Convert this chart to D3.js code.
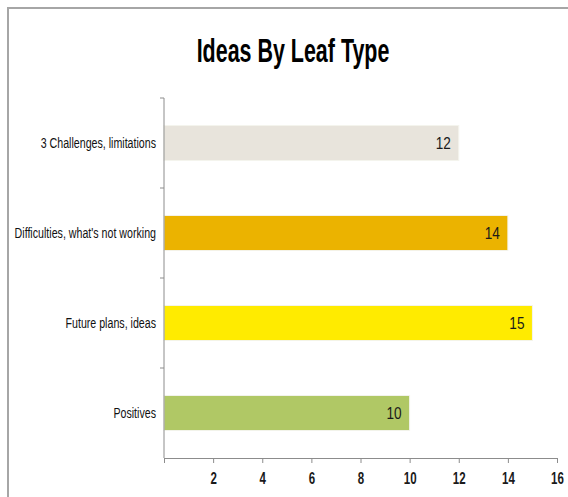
<!DOCTYPE html>
<meta charset="utf-8">
<head>
<style type='text/css'>
  body {
    margin: 0;
    background: #fff;
  }
  .axis .domain, .axis line {
    stroke: #8c8c8c;
  }
  .xaxis text {
    font-family: 'Liberation Sans', sans-serif;
    font-weight: bold;
    font-size: 16px;
    fill: #1a1a1a;
  }
  .ylab {
    font-family: 'Liberation Sans', sans-serif;
    font-size: 14.8px;
    fill: #111;
  }
</style>
</head>
<body>
<svg id="chart" width="568" height="497"></svg>
<script src="https://d3js.org/d3.v7.min.js"></script>
<script>
// data
var categories = ["3 Challenges, limitations", "Difficulties, what's not working", "Future plans, ideas", "Positives"];
var counts = [12, 14, 15, 10];
var barColors = ["#e8e4dc", "#ebb300", "#ffeb00", "#b0c865"];
var xTicks = [2, 4, 6, 8, 10, 12, 14, 16];

// the original uses a narrow font, squeeze the text horizontally
var squeeze = 0.72;

var svg = d3.select("#chart"),
    margin = {top: 98, right: 11, bottom: 39, left: 164},
    width = +svg.attr("width") - margin.left - margin.right,
    height = +svg.attr("height") - margin.top - margin.bottom;

// outer frame
svg.append("path")
    .attr("d", "M8,497 V8 H568")
    .attr("fill", "none")
    .attr("stroke", "#a6a6a6")
    .attr("stroke-width", 2);

svg.append("g")
    .attr("transform", "translate(293,62) scale(0.65,1)")
  .append("text")
    .attr("text-anchor", "middle")
    .style("font-family", "'Liberation Sans', sans-serif")
    .style("font-weight", "bold")
    .style("font-size", "33px")
    .attr("fill", "#000")
    .text("Ideas By Leaf Type");

var g = svg.append("g").attr("transform", "translate(" + margin.left + "," + margin.top + ")");

var x = d3.scaleLinear().domain([0, 16]).range([0, width]);
var y = d3.scaleBand().domain(categories).range([0, height]).paddingInner(0.61).paddingOuter(0.305);
var band = d3.scaleBand().domain(categories).range([0, height]);

g.selectAll("rect.bar")
    .data(categories)
  .enter().append("rect")
    .attr("class", "bar")
    .attr("x", 0)
    .attr("y", function(d) { return y(d); })
    .attr("width", function(d, i) { return x(counts[i]); })
    .attr("height", y.bandwidth())
    .attr("fill", function(d, i) { return barColors[i]; })
    .attr("stroke", "#f4f4ee")
    .attr("stroke-width", 1);

g.selectAll("g.val")
    .data(categories)
  .enter().append("g")
    .attr("class", "val")
    .attr("transform", function(d, i) {
      return "translate(" + (x(counts[i]) - 8) + "," + (y(d) + y.bandwidth() / 2) + ") scale(0.85,1)";
    })
  .append("text")
    .attr("dy", "0.36em")
    .attr("text-anchor", "end")
    .style("font-family", "'Liberation Sans', sans-serif")
    .style("font-size", "16px")
    .attr("fill", "#1a1a1a")
    .text(function(d, i) { return counts[i]; });

// x axis
var xAxis = g.append("g")
    .attr("class", "axis xaxis")
    .attr("transform", "translate(0," + height + ")")
    .call(d3.axisBottom(x).tickValues([0].concat(xTicks)).tickSize(5).tickPadding(10)
      .tickFormat(function(d) { return d === 0 ? "" : d; }));
xAxis.selectAll(".tick text")
    .attr("transform", "scale(" + squeeze + ",1)");

// y axis: ticks on the band boundaries, labels in the middle
var yAxis = g.append("g").attr("class", "axis yaxis");
yAxis.append("line")
    .attr("x1", 0).attr("x2", 0)
    .attr("y1", 0).attr("y2", height)
    .attr("stroke", "#8c8c8c");
yAxis.selectAll("line.tk")
    .data(categories)
  .enter().append("line")
    .attr("class", "tk")
    .attr("x1", -4).attr("x2", 0)
    .attr("y1", function(d) { return band(d); })
    .attr("y2", function(d) { return band(d); })
    .attr("stroke", "#8c8c8c");
yAxis.selectAll("g.ylab")
    .data(categories)
  .enter().append("g")
    .attr("class", "ylab")
    .attr("transform", function(d) {
      return "translate(-8," + (band(d) + band.bandwidth() / 2) + ") scale(" + squeeze + ",1)";
    })
  .append("text")
    .attr("dy", "0.35em")
    .attr("text-anchor", "end")
    .text(function(d) { return d; });
</script>
</body>
